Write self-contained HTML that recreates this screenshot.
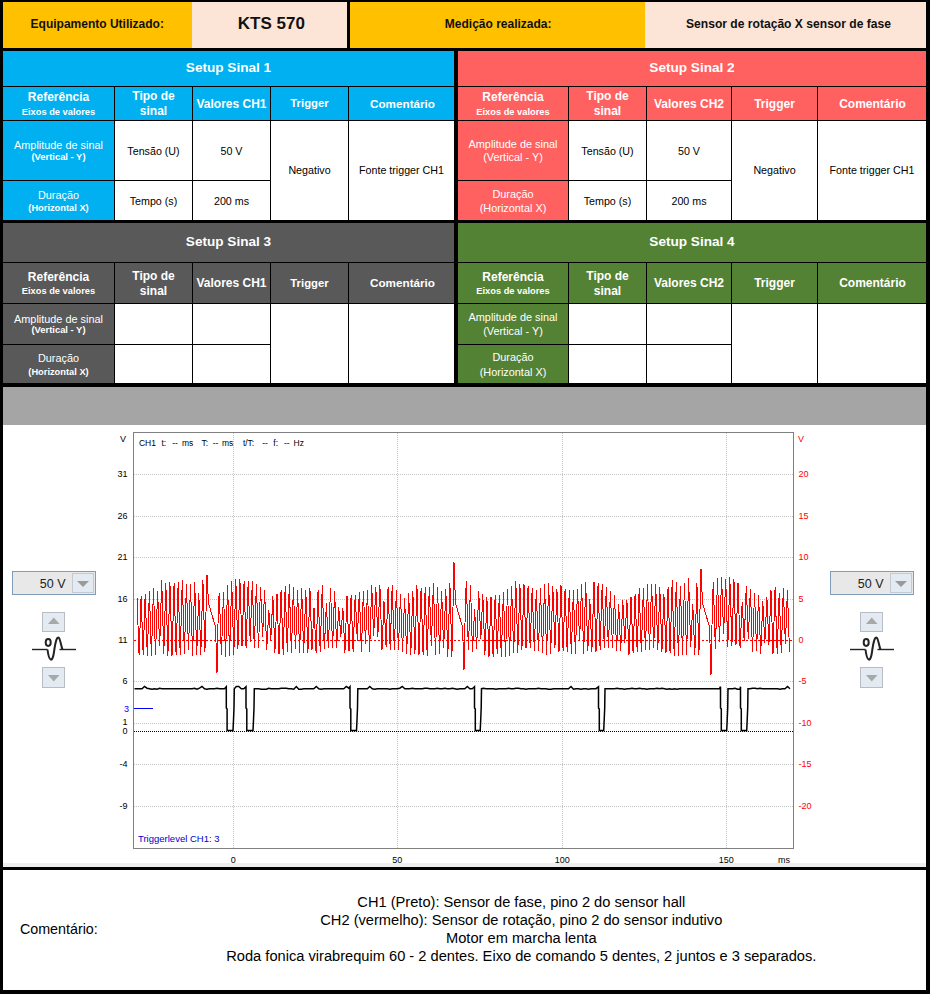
<!DOCTYPE html>
<html><head><meta charset="utf-8"><style>
html,body{margin:0;padding:0;background:#fff;}
body{width:932px;height:997px;position:relative;overflow:hidden;font-family:"Liberation Sans", sans-serif;}
</style></head><body>
<div style="position:absolute;left:0;top:0;width:930px;height:994px;background:#000"></div>
<div style="position:absolute;left:3px;top:2px;width:189px;height:46px;background:#FFC000;"></div>
<div style="position:absolute;left:192px;top:2px;width:155px;height:46px;background:#FCE4D6;"></div>
<div style="position:absolute;left:350px;top:2px;width:295px;height:46px;background:#FFC000;"></div>
<div style="position:absolute;left:645px;top:2px;width:281px;height:46px;background:#FCE4D6;"></div>
<div style="position:absolute;left:-302.75px;width:800px;text-align:center;top:15.04px;font-size:12px;line-height:18px;font-weight:bold;color:#111;white-space:nowrap;">Equipamento Utilizado:</div>
<div style="position:absolute;left:-128.70px;width:800px;text-align:center;top:10.91px;font-size:17px;line-height:26px;font-weight:bold;color:#111;white-space:nowrap;">KTS 570</div>
<div style="position:absolute;left:98.20px;width:800px;text-align:center;top:14.54px;font-size:12px;line-height:18px;font-weight:bold;color:#111;white-space:nowrap;">Medição realizada:</div>
<div style="position:absolute;left:388.50px;width:800px;text-align:center;top:14.61px;font-size:12.1px;line-height:18px;font-weight:bold;color:#111;white-space:nowrap;">Sensor de rotação X sensor de fase</div>
<div style="position:absolute;left:3px;top:51px;width:451px;height:169px;background:#000;"></div>
<div style="position:absolute;left:3px;top:51px;width:451px;height:35px;background:#00B0F0;"></div>
<div style="position:absolute;left:-171.50px;width:800px;text-align:center;top:57.69px;font-size:13.6px;line-height:20px;font-weight:bold;color:#fff;white-space:nowrap;">Setup Sinal 1</div>
<div style="position:absolute;left:3px;top:87px;width:111px;height:33px;background:#00B0F0;"></div>
<div style="position:absolute;left:115px;top:87px;width:77px;height:33px;background:#00B0F0;"></div>
<div style="position:absolute;left:193px;top:87px;width:77px;height:33px;background:#00B0F0;"></div>
<div style="position:absolute;left:271px;top:87px;width:77px;height:33px;background:#00B0F0;"></div>
<div style="position:absolute;left:349px;top:87px;width:105px;height:33px;background:#00B0F0;"></div>
<div style="position:absolute;left:-341.50px;width:800px;text-align:center;top:88.44px;font-size:12px;line-height:18px;font-weight:bold;color:#fff;white-space:nowrap;">Referência</div>
<div style="position:absolute;left:-341.50px;width:800px;text-align:center;top:104.58px;font-size:9.3px;line-height:14px;font-weight:bold;color:#fff;white-space:nowrap;">Eixos de valores</div>
<div style="position:absolute;left:-246.50px;width:800px;text-align:center;top:87.34px;font-size:12px;line-height:18px;font-weight:bold;color:#fff;white-space:nowrap;">Tipo de</div>
<div style="position:absolute;left:-246.50px;width:800px;text-align:center;top:102.14px;font-size:12px;line-height:18px;font-weight:bold;color:#fff;white-space:nowrap;">sinal</div>
<div style="position:absolute;left:-168.50px;width:800px;text-align:center;top:94.54px;font-size:12px;line-height:18px;font-weight:bold;color:#fff;white-space:nowrap;">Valores CH1</div>
<div style="position:absolute;left:-90.50px;width:800px;text-align:center;top:95.28px;font-size:11.3px;line-height:17px;font-weight:bold;color:#fff;white-space:nowrap;">Trigger</div>
<div style="position:absolute;left:2.50px;width:800px;text-align:center;top:94.65px;font-size:11.7px;line-height:18px;font-weight:bold;color:#fff;white-space:nowrap;">Comentário</div>
<div style="position:absolute;left:3px;top:121px;width:111px;height:59px;background:#00B0F0;"></div>
<div style="position:absolute;left:3px;top:181px;width:111px;height:39px;background:#00B0F0;"></div>
<div style="position:absolute;left:-341.50px;width:800px;text-align:center;top:137.02px;font-size:10.9px;line-height:16px;font-weight:normal;color:#fff;white-space:nowrap;">Amplitude de sinal</div>
<div style="position:absolute;left:-341.50px;width:800px;text-align:center;top:149.84px;font-size:9.4px;line-height:14px;font-weight:bold;color:#fff;white-space:nowrap;">(Vertical - Y)</div>
<div style="position:absolute;left:-341.50px;width:800px;text-align:center;top:186.82px;font-size:10.9px;line-height:16px;font-weight:normal;color:#fff;white-space:nowrap;">Duração</div>
<div style="position:absolute;left:-341.50px;width:800px;text-align:center;top:201.08px;font-size:9.3px;line-height:14px;font-weight:bold;color:#fff;white-space:nowrap;">(Horizontal X)</div>
<div style="position:absolute;left:115px;top:121px;width:77px;height:59px;background:#fff;"></div>
<div style="position:absolute;left:193px;top:121px;width:77px;height:59px;background:#fff;"></div>
<div style="position:absolute;left:115px;top:181px;width:77px;height:39px;background:#fff;"></div>
<div style="position:absolute;left:193px;top:181px;width:77px;height:39px;background:#fff;"></div>
<div style="position:absolute;left:271px;top:121px;width:77px;height:99px;background:#fff;"></div>
<div style="position:absolute;left:349px;top:121px;width:105px;height:99px;background:#fff;"></div>
<div style="position:absolute;left:-246.50px;width:800px;text-align:center;top:143.09px;font-size:10.7px;line-height:16px;font-weight:normal;color:#000;white-space:nowrap;">Tensão (U)</div>
<div style="position:absolute;left:-168.50px;width:800px;text-align:center;top:143.09px;font-size:10.7px;line-height:16px;font-weight:normal;color:#000;white-space:nowrap;">50 V</div>
<div style="position:absolute;left:-246.50px;width:800px;text-align:center;top:193.09px;font-size:10.7px;line-height:16px;font-weight:normal;color:#000;white-space:nowrap;">Tempo (s)</div>
<div style="position:absolute;left:-168.50px;width:800px;text-align:center;top:193.09px;font-size:10.7px;line-height:16px;font-weight:normal;color:#000;white-space:nowrap;">200 ms</div>
<div style="position:absolute;left:-90.50px;width:800px;text-align:center;top:162.09px;font-size:10.7px;line-height:16px;font-weight:normal;color:#000;white-space:nowrap;">Negativo</div>
<div style="position:absolute;left:1.50px;width:800px;text-align:center;top:162.09px;font-size:10.7px;line-height:16px;font-weight:normal;color:#000;white-space:nowrap;">Fonte trigger CH1</div>
<div style="position:absolute;left:458px;top:51px;width:468px;height:169px;background:#000;"></div>
<div style="position:absolute;left:458px;top:51px;width:468px;height:35px;background:#FF6161;"></div>
<div style="position:absolute;left:292.00px;width:800px;text-align:center;top:57.69px;font-size:13.6px;line-height:20px;font-weight:bold;color:#fff;white-space:nowrap;">Setup Sinal 2</div>
<div style="position:absolute;left:458px;top:87px;width:110px;height:33px;background:#FF6161;"></div>
<div style="position:absolute;left:569px;top:87px;width:77px;height:33px;background:#FF6161;"></div>
<div style="position:absolute;left:647px;top:87px;width:84px;height:33px;background:#FF6161;"></div>
<div style="position:absolute;left:732px;top:87px;width:85px;height:33px;background:#FF6161;"></div>
<div style="position:absolute;left:818px;top:87px;width:108px;height:33px;background:#FF6161;"></div>
<div style="position:absolute;left:113.00px;width:800px;text-align:center;top:88.44px;font-size:12px;line-height:18px;font-weight:bold;color:#fff;white-space:nowrap;">Referência</div>
<div style="position:absolute;left:113.00px;width:800px;text-align:center;top:104.58px;font-size:9.3px;line-height:14px;font-weight:bold;color:#fff;white-space:nowrap;">Eixos de valores</div>
<div style="position:absolute;left:207.50px;width:800px;text-align:center;top:87.34px;font-size:12px;line-height:18px;font-weight:bold;color:#fff;white-space:nowrap;">Tipo de</div>
<div style="position:absolute;left:207.50px;width:800px;text-align:center;top:102.14px;font-size:12px;line-height:18px;font-weight:bold;color:#fff;white-space:nowrap;">sinal</div>
<div style="position:absolute;left:289.00px;width:800px;text-align:center;top:94.54px;font-size:12px;line-height:18px;font-weight:bold;color:#fff;white-space:nowrap;">Valores CH2</div>
<div style="position:absolute;left:374.50px;width:800px;text-align:center;top:94.54px;font-size:12px;line-height:18px;font-weight:bold;color:#fff;white-space:nowrap;">Trigger</div>
<div style="position:absolute;left:472.50px;width:800px;text-align:center;top:94.54px;font-size:12px;line-height:18px;font-weight:bold;color:#fff;white-space:nowrap;">Comentário</div>
<div style="position:absolute;left:458px;top:121px;width:110px;height:59px;background:#FF6161;"></div>
<div style="position:absolute;left:458px;top:181px;width:110px;height:39px;background:#FF6161;"></div>
<div style="position:absolute;left:113.00px;width:800px;text-align:center;top:135.82px;font-size:10.9px;line-height:16px;font-weight:normal;color:#fff;white-space:nowrap;">Amplitude de sinal</div>
<div style="position:absolute;left:113.00px;width:800px;text-align:center;top:149.22px;font-size:10.9px;line-height:16px;font-weight:normal;color:#fff;white-space:nowrap;">(Vertical - Y)</div>
<div style="position:absolute;left:113.00px;width:800px;text-align:center;top:185.72px;font-size:10.9px;line-height:16px;font-weight:normal;color:#fff;white-space:nowrap;">Duração</div>
<div style="position:absolute;left:113.00px;width:800px;text-align:center;top:200.22px;font-size:10.9px;line-height:16px;font-weight:normal;color:#fff;white-space:nowrap;">(Horizontal X)</div>
<div style="position:absolute;left:569px;top:121px;width:77px;height:59px;background:#fff;"></div>
<div style="position:absolute;left:647px;top:121px;width:84px;height:59px;background:#fff;"></div>
<div style="position:absolute;left:569px;top:181px;width:77px;height:39px;background:#fff;"></div>
<div style="position:absolute;left:647px;top:181px;width:84px;height:39px;background:#fff;"></div>
<div style="position:absolute;left:732px;top:121px;width:85px;height:99px;background:#fff;"></div>
<div style="position:absolute;left:818px;top:121px;width:108px;height:99px;background:#fff;"></div>
<div style="position:absolute;left:207.50px;width:800px;text-align:center;top:143.09px;font-size:10.7px;line-height:16px;font-weight:normal;color:#000;white-space:nowrap;">Tensão (U)</div>
<div style="position:absolute;left:289.00px;width:800px;text-align:center;top:143.09px;font-size:10.7px;line-height:16px;font-weight:normal;color:#000;white-space:nowrap;">50 V</div>
<div style="position:absolute;left:207.50px;width:800px;text-align:center;top:193.09px;font-size:10.7px;line-height:16px;font-weight:normal;color:#000;white-space:nowrap;">Tempo (s)</div>
<div style="position:absolute;left:289.00px;width:800px;text-align:center;top:193.09px;font-size:10.7px;line-height:16px;font-weight:normal;color:#000;white-space:nowrap;">200 ms</div>
<div style="position:absolute;left:374.50px;width:800px;text-align:center;top:162.09px;font-size:10.7px;line-height:16px;font-weight:normal;color:#000;white-space:nowrap;">Negativo</div>
<div style="position:absolute;left:472.00px;width:800px;text-align:center;top:162.09px;font-size:10.7px;line-height:16px;font-weight:normal;color:#000;white-space:nowrap;">Fonte trigger CH1</div>
<div style="position:absolute;left:3px;top:223px;width:451px;height:160px;background:#000;"></div>
<div style="position:absolute;left:3px;top:223px;width:451px;height:39px;background:#595959;"></div>
<div style="position:absolute;left:-171.50px;width:800px;text-align:center;top:231.69px;font-size:13.6px;line-height:20px;font-weight:bold;color:#fff;white-space:nowrap;">Setup Sinal 3</div>
<div style="position:absolute;left:3px;top:263px;width:111px;height:40px;background:#595959;"></div>
<div style="position:absolute;left:115px;top:263px;width:77px;height:40px;background:#595959;"></div>
<div style="position:absolute;left:193px;top:263px;width:77px;height:40px;background:#595959;"></div>
<div style="position:absolute;left:271px;top:263px;width:77px;height:40px;background:#595959;"></div>
<div style="position:absolute;left:349px;top:263px;width:105px;height:40px;background:#595959;"></div>
<div style="position:absolute;left:-341.50px;width:800px;text-align:center;top:267.94px;font-size:12px;line-height:18px;font-weight:bold;color:#fff;white-space:nowrap;">Referência</div>
<div style="position:absolute;left:-341.50px;width:800px;text-align:center;top:284.08px;font-size:9.3px;line-height:14px;font-weight:bold;color:#fff;white-space:nowrap;">Eixos de valores</div>
<div style="position:absolute;left:-246.50px;width:800px;text-align:center;top:266.84px;font-size:12px;line-height:18px;font-weight:bold;color:#fff;white-space:nowrap;">Tipo de</div>
<div style="position:absolute;left:-246.50px;width:800px;text-align:center;top:281.64px;font-size:12px;line-height:18px;font-weight:bold;color:#fff;white-space:nowrap;">sinal</div>
<div style="position:absolute;left:-168.50px;width:800px;text-align:center;top:274.04px;font-size:12px;line-height:18px;font-weight:bold;color:#fff;white-space:nowrap;">Valores CH1</div>
<div style="position:absolute;left:-90.50px;width:800px;text-align:center;top:274.78px;font-size:11.3px;line-height:17px;font-weight:bold;color:#fff;white-space:nowrap;">Trigger</div>
<div style="position:absolute;left:2.50px;width:800px;text-align:center;top:274.15px;font-size:11.7px;line-height:18px;font-weight:bold;color:#fff;white-space:nowrap;">Comentário</div>
<div style="position:absolute;left:3px;top:304px;width:111px;height:40px;background:#595959;"></div>
<div style="position:absolute;left:3px;top:345px;width:111px;height:38px;background:#595959;"></div>
<div style="position:absolute;left:-341.50px;width:800px;text-align:center;top:310.52px;font-size:10.9px;line-height:16px;font-weight:normal;color:#fff;white-space:nowrap;">Amplitude de sinal</div>
<div style="position:absolute;left:-341.50px;width:800px;text-align:center;top:323.34px;font-size:9.4px;line-height:14px;font-weight:bold;color:#fff;white-space:nowrap;">(Vertical - Y)</div>
<div style="position:absolute;left:-341.50px;width:800px;text-align:center;top:350.32px;font-size:10.9px;line-height:16px;font-weight:normal;color:#fff;white-space:nowrap;">Duração</div>
<div style="position:absolute;left:-341.50px;width:800px;text-align:center;top:364.58px;font-size:9.3px;line-height:14px;font-weight:bold;color:#fff;white-space:nowrap;">(Horizontal X)</div>
<div style="position:absolute;left:115px;top:304px;width:77px;height:40px;background:#fff;"></div>
<div style="position:absolute;left:193px;top:304px;width:77px;height:40px;background:#fff;"></div>
<div style="position:absolute;left:115px;top:345px;width:77px;height:38px;background:#fff;"></div>
<div style="position:absolute;left:193px;top:345px;width:77px;height:38px;background:#fff;"></div>
<div style="position:absolute;left:271px;top:304px;width:77px;height:79px;background:#fff;"></div>
<div style="position:absolute;left:349px;top:304px;width:105px;height:79px;background:#fff;"></div>
<div style="position:absolute;left:458px;top:223px;width:468px;height:160px;background:#000;"></div>
<div style="position:absolute;left:458px;top:223px;width:468px;height:39px;background:#548235;"></div>
<div style="position:absolute;left:292.00px;width:800px;text-align:center;top:231.69px;font-size:13.6px;line-height:20px;font-weight:bold;color:#fff;white-space:nowrap;">Setup Sinal 4</div>
<div style="position:absolute;left:458px;top:263px;width:110px;height:40px;background:#548235;"></div>
<div style="position:absolute;left:569px;top:263px;width:77px;height:40px;background:#548235;"></div>
<div style="position:absolute;left:647px;top:263px;width:84px;height:40px;background:#548235;"></div>
<div style="position:absolute;left:732px;top:263px;width:85px;height:40px;background:#548235;"></div>
<div style="position:absolute;left:818px;top:263px;width:108px;height:40px;background:#548235;"></div>
<div style="position:absolute;left:113.00px;width:800px;text-align:center;top:267.94px;font-size:12px;line-height:18px;font-weight:bold;color:#fff;white-space:nowrap;">Referência</div>
<div style="position:absolute;left:113.00px;width:800px;text-align:center;top:284.08px;font-size:9.3px;line-height:14px;font-weight:bold;color:#fff;white-space:nowrap;">Eixos de valores</div>
<div style="position:absolute;left:207.50px;width:800px;text-align:center;top:266.84px;font-size:12px;line-height:18px;font-weight:bold;color:#fff;white-space:nowrap;">Tipo de</div>
<div style="position:absolute;left:207.50px;width:800px;text-align:center;top:281.64px;font-size:12px;line-height:18px;font-weight:bold;color:#fff;white-space:nowrap;">sinal</div>
<div style="position:absolute;left:289.00px;width:800px;text-align:center;top:274.04px;font-size:12px;line-height:18px;font-weight:bold;color:#fff;white-space:nowrap;">Valores CH2</div>
<div style="position:absolute;left:374.50px;width:800px;text-align:center;top:274.04px;font-size:12px;line-height:18px;font-weight:bold;color:#fff;white-space:nowrap;">Trigger</div>
<div style="position:absolute;left:472.50px;width:800px;text-align:center;top:274.04px;font-size:12px;line-height:18px;font-weight:bold;color:#fff;white-space:nowrap;">Comentário</div>
<div style="position:absolute;left:458px;top:304px;width:110px;height:40px;background:#548235;"></div>
<div style="position:absolute;left:458px;top:345px;width:110px;height:38px;background:#548235;"></div>
<div style="position:absolute;left:113.00px;width:800px;text-align:center;top:309.32px;font-size:10.9px;line-height:16px;font-weight:normal;color:#fff;white-space:nowrap;">Amplitude de sinal</div>
<div style="position:absolute;left:113.00px;width:800px;text-align:center;top:322.72px;font-size:10.9px;line-height:16px;font-weight:normal;color:#fff;white-space:nowrap;">(Vertical - Y)</div>
<div style="position:absolute;left:113.00px;width:800px;text-align:center;top:349.22px;font-size:10.9px;line-height:16px;font-weight:normal;color:#fff;white-space:nowrap;">Duração</div>
<div style="position:absolute;left:113.00px;width:800px;text-align:center;top:363.72px;font-size:10.9px;line-height:16px;font-weight:normal;color:#fff;white-space:nowrap;">(Horizontal X)</div>
<div style="position:absolute;left:569px;top:304px;width:77px;height:40px;background:#fff;"></div>
<div style="position:absolute;left:647px;top:304px;width:84px;height:40px;background:#fff;"></div>
<div style="position:absolute;left:569px;top:345px;width:77px;height:38px;background:#fff;"></div>
<div style="position:absolute;left:647px;top:345px;width:84px;height:38px;background:#fff;"></div>
<div style="position:absolute;left:732px;top:304px;width:85px;height:79px;background:#fff;"></div>
<div style="position:absolute;left:818px;top:304px;width:108px;height:79px;background:#fff;"></div>
<div style="position:absolute;left:3px;top:387px;width:923px;height:38px;background:#A5A5A5;"></div>
<div style="position:absolute;left:3px;top:425px;width:923px;height:442px;background:#fff;"></div>
<div style="position:absolute;left:3px;top:863px;width:923px;height:4px;background:#eeeeee;"></div>
<div style="position:absolute;left:3px;top:870px;width:923px;height:120px;background:#fff;"></div>
<div style="position:absolute;left:19.90px;top:919.35px;font-size:14.3px;line-height:21px;font-weight:normal;color:#000;white-space:nowrap;">Comentário:</div>
<div style="position:absolute;left:121.30px;width:800px;text-align:center;top:891.22px;font-size:14.65px;line-height:22px;font-weight:normal;color:#000;white-space:nowrap;">CH1 (Preto): Sensor de fase, pino 2 do sensor hall</div>
<div style="position:absolute;left:121.30px;width:800px;text-align:center;top:909.22px;font-size:14.65px;line-height:22px;font-weight:normal;color:#000;white-space:nowrap;">CH2 (vermelho): Sensor de rotação, pino 2 do sensor indutivo</div>
<div style="position:absolute;left:121.30px;width:800px;text-align:center;top:927.22px;font-size:14.65px;line-height:22px;font-weight:normal;color:#000;white-space:nowrap;">Motor em marcha lenta</div>
<div style="position:absolute;left:121.30px;width:800px;text-align:center;top:945.12px;font-size:14.65px;line-height:22px;font-weight:normal;color:#000;white-space:nowrap;">Roda fonica virabrequim 60 - 2 dentes. Eixo de comando 5 dentes, 2 juntos e 3 separados.</div>
<svg width="932" height="997" style="position:absolute;left:0;top:0">
<line x1="133.5" y1="474.5" x2="793.5" y2="474.5" stroke="#c4c4c4" stroke-width="1" stroke-dasharray="1 1" shape-rendering="crispEdges"/>
<line x1="133.5" y1="516.5" x2="793.5" y2="516.5" stroke="#c4c4c4" stroke-width="1" stroke-dasharray="1 1" shape-rendering="crispEdges"/>
<line x1="133.5" y1="557.5" x2="793.5" y2="557.5" stroke="#c4c4c4" stroke-width="1" stroke-dasharray="1 1" shape-rendering="crispEdges"/>
<line x1="133.5" y1="599.5" x2="793.5" y2="599.5" stroke="#c4c4c4" stroke-width="1" stroke-dasharray="1 1" shape-rendering="crispEdges"/>
<line x1="133.5" y1="681.5" x2="793.5" y2="681.5" stroke="#c4c4c4" stroke-width="1" stroke-dasharray="1 1" shape-rendering="crispEdges"/>
<line x1="133.5" y1="723.5" x2="793.5" y2="723.5" stroke="#c4c4c4" stroke-width="1" stroke-dasharray="1 1" shape-rendering="crispEdges"/>
<line x1="133.5" y1="764.5" x2="793.5" y2="764.5" stroke="#c4c4c4" stroke-width="1" stroke-dasharray="1 1" shape-rendering="crispEdges"/>
<line x1="133.5" y1="806.5" x2="793.5" y2="806.5" stroke="#c4c4c4" stroke-width="1" stroke-dasharray="1 1" shape-rendering="crispEdges"/>
<line x1="233.5" y1="432.5" x2="233.5" y2="848.5" stroke="#c4c4c4" stroke-width="1" stroke-dasharray="1 1" shape-rendering="crispEdges"/>
<line x1="397.5" y1="432.5" x2="397.5" y2="848.5" stroke="#c4c4c4" stroke-width="1" stroke-dasharray="1 1" shape-rendering="crispEdges"/>
<line x1="562.5" y1="432.5" x2="562.5" y2="848.5" stroke="#c4c4c4" stroke-width="1" stroke-dasharray="1 1" shape-rendering="crispEdges"/>
<line x1="726.5" y1="432.5" x2="726.5" y2="848.5" stroke="#c4c4c4" stroke-width="1" stroke-dasharray="1 1" shape-rendering="crispEdges"/>
<line x1="133.5" y1="731.5" x2="793.5" y2="731.5" stroke="#000" stroke-width="1" stroke-dasharray="1 1" shape-rendering="crispEdges"/>
<line x1="133.5" y1="640.5" x2="793.5" y2="640.5" stroke="#ff0000" stroke-width="1" stroke-dasharray="2 2" shape-rendering="crispEdges"/>
<rect x="133.5" y="432.5" width="660.0" height="416.0" fill="none" stroke="#808080" stroke-width="1" shape-rendering="crispEdges"/>
<text x="126" y="441.8" font-family='"Liberation Sans", sans-serif' font-size="9" fill="#000" text-anchor="end">V</text>
<text x="127.5" y="477.1" font-family='"Liberation Sans", sans-serif' font-size="9" fill="#000" text-anchor="end">31</text>
<text x="127.5" y="519.1" font-family='"Liberation Sans", sans-serif' font-size="9" fill="#000" text-anchor="end">26</text>
<text x="127.5" y="560.1" font-family='"Liberation Sans", sans-serif' font-size="9" fill="#000" text-anchor="end">21</text>
<text x="127.5" y="602.1" font-family='"Liberation Sans", sans-serif' font-size="9" fill="#000" text-anchor="end">16</text>
<text x="127.5" y="643.1" font-family='"Liberation Sans", sans-serif' font-size="9" fill="#000" text-anchor="end">11</text>
<text x="127.5" y="684.1" font-family='"Liberation Sans", sans-serif' font-size="9" fill="#000" text-anchor="end">6</text>
<text x="127.5" y="725.3" font-family='"Liberation Sans", sans-serif' font-size="9" fill="#000" text-anchor="end">1</text>
<text x="127.5" y="734.1" font-family='"Liberation Sans", sans-serif' font-size="9" fill="#000" text-anchor="end">0</text>
<text x="127.5" y="767.1" font-family='"Liberation Sans", sans-serif' font-size="9" fill="#000" text-anchor="end">-4</text>
<text x="127.5" y="809.1" font-family='"Liberation Sans", sans-serif' font-size="9" fill="#000" text-anchor="end">-9</text>
<text x="129" y="711.5" font-family='"Liberation Sans", sans-serif' font-size="9" fill="#0000ff" text-anchor="end">3</text>
<line x1="134" y1="708.5" x2="153" y2="708.5" stroke="#0000ff" stroke-width="1"/>
<text x="798" y="441.5" font-family='"Liberation Sans", sans-serif' font-size="9" fill="#ff0000" text-anchor="start">V</text>
<text x="798.5" y="477.1" font-family='"Liberation Sans", sans-serif' font-size="9" fill="#ff0000" text-anchor="start">20</text>
<text x="798.5" y="519.1" font-family='"Liberation Sans", sans-serif' font-size="9" fill="#ff0000" text-anchor="start">15</text>
<text x="798.5" y="560.1" font-family='"Liberation Sans", sans-serif' font-size="9" fill="#ff0000" text-anchor="start">10</text>
<text x="798.5" y="602.1" font-family='"Liberation Sans", sans-serif' font-size="9" fill="#ff0000" text-anchor="start">5</text>
<text x="798.5" y="643.1" font-family='"Liberation Sans", sans-serif' font-size="9" fill="#ff0000" text-anchor="start">0</text>
<text x="798.5" y="684.1" font-family='"Liberation Sans", sans-serif' font-size="9" fill="#ff0000" text-anchor="start">-5</text>
<text x="798.5" y="726.1" font-family='"Liberation Sans", sans-serif' font-size="9" fill="#ff0000" text-anchor="start">-10</text>
<text x="798.5" y="767.1" font-family='"Liberation Sans", sans-serif' font-size="9" fill="#ff0000" text-anchor="start">-15</text>
<text x="798.5" y="809.1" font-family='"Liberation Sans", sans-serif' font-size="9" fill="#ff0000" text-anchor="start">-20</text>
<text x="233.2" y="862.7" font-family='"Liberation Sans", sans-serif' font-size="9" fill="#000" text-anchor="middle">0</text>
<text x="397.2" y="862.7" font-family='"Liberation Sans", sans-serif' font-size="9" fill="#000" text-anchor="middle">50</text>
<text x="562.2" y="862.7" font-family='"Liberation Sans", sans-serif' font-size="9" fill="#000" text-anchor="middle">100</text>
<text x="726.2" y="862.7" font-family='"Liberation Sans", sans-serif' font-size="9" fill="#000" text-anchor="middle">150</text>
<text x="784" y="862.7" font-family='"Liberation Sans", sans-serif' font-size="9" fill="#000" text-anchor="middle">ms</text>
<text x="138.9" y="446" font-family='"Liberation Sans", sans-serif' font-size="8.5" fill="#000" text-anchor="start">CH1</text>
<text x="161.5" y="446" font-family='"Liberation Sans", sans-serif' font-size="8.5" fill="#000" text-anchor="start">t:</text>
<text x="172.2" y="446" font-family='"Liberation Sans", sans-serif' font-size="8.5" fill="#000" text-anchor="start">--</text>
<text x="182" y="446" font-family='"Liberation Sans", sans-serif' font-size="8.5" fill="#000" text-anchor="start">ms</text>
<text x="201.6" y="446" font-family='"Liberation Sans", sans-serif' font-size="8.5" fill="#000" text-anchor="start">T:</text>
<text x="212.7" y="446" font-family='"Liberation Sans", sans-serif' font-size="8.5" fill="#000" text-anchor="start">--</text>
<text x="222" y="446" font-family='"Liberation Sans", sans-serif' font-size="8.5" fill="#000" text-anchor="start">ms</text>
<text x="242.9" y="446" font-family='"Liberation Sans", sans-serif' font-size="8.5" fill="#000" text-anchor="start">t/T:</text>
<text x="262.2" y="446" font-family='"Liberation Sans", sans-serif' font-size="8.5" fill="#000" text-anchor="start">--</text>
<text x="273.3" y="446" font-family='"Liberation Sans", sans-serif' font-size="8.5" fill="#000" text-anchor="start">f:</text>
<text x="283.9" y="446" font-family='"Liberation Sans", sans-serif' font-size="8.5" fill="#000" text-anchor="start">--</text>
<text x="293.5" y="446" font-family='"Liberation Sans", sans-serif' font-size="8.5" fill="#000" text-anchor="start">Hz</text>
<text x="138" y="842" font-family='"Liberation Sans", sans-serif' font-size="9.5" fill="#0000cc" text-anchor="start">Triggerlevel CH1: 3</text>
<polyline points="137.0,598.0 139.1,655.2 141.1,596.4 143.2,655.1 145.2,593.8 147.3,656.0 149.4,591.2 151.4,655.8 153.5,588.2 155.5,655.4 157.6,591.3 159.7,646.4 161.7,580.0 163.8,653.5 165.8,582.6 167.9,655.5 169.9,581.8 172.0,655.8 174.1,583.3 176.1,654.9 178.2,581.8 180.2,654.6 182.3,579.6 184.4,653.6 186.4,584.0 188.5,649.5 190.5,584.5 192.6,656.0 194.7,581.8 196.7,655.2 198.8,593.5 200.8,654.7 202.9,579.8 204.9,652.3 207.0,575.0 208.5,603.0 215.5,627.0 217.0,673.0 218.5,600.0 219.3,593.4 221.4,655.0 223.5,591.8 225.5,656.6 227.6,585.5 229.6,656.2 231.7,581.1 233.8,654.5 235.8,579.1 237.9,649.4 239.9,578.9 242.0,646.2 244.1,581.2 246.1,648.4 248.2,581.4 250.2,641.5 252.3,581.1 254.3,648.2 256.4,583.8 258.5,648.4 260.5,587.0 262.6,636.5 264.6,589.9 266.7,650.3 268.8,610.3 270.8,639.5 272.9,596.5 274.9,652.9 277.0,594.0 279.0,654.4 281.1,589.8 283.2,654.7 285.2,586.1 287.3,651.5 289.3,584.0 291.4,653.0 293.4,587.5 295.5,649.4 297.6,590.4 299.6,652.5 301.7,588.3 303.7,652.6 305.8,590.1 307.9,652.9 309.9,587.7 312.0,650.0 314.0,607.7 316.1,652.9 318.1,589.8 320.2,651.6 322.3,585.2 324.3,648.7 326.4,603.5 328.4,648.0 330.5,587.7 332.6,647.8 334.6,590.6 336.7,647.9 338.7,606.6 340.8,636.8 342.9,608.3 344.9,652.6 347.0,595.8 349.0,651.2 351.1,595.2 353.1,651.6 355.2,594.7 357.3,640.6 359.3,591.6 361.4,651.5 363.4,590.9 365.5,643.8 367.5,590.1 369.6,651.9 371.7,584.9 373.7,635.8 375.8,587.0 377.8,637.2 379.9,585.1 382.0,649.7 384.0,601.3 386.1,646.8 388.1,587.0 390.2,649.6 392.2,585.5 394.3,649.8 396.4,590.0 398.4,650.0 400.5,593.6 402.5,651.7 404.6,598.0 406.7,653.9 408.7,593.4 410.8,654.6 412.8,591.0 414.9,654.1 416.9,585.5 419.0,654.5 421.1,588.2 423.1,654.9 425.2,587.2 427.2,655.7 429.3,587.0 431.4,645.8 433.4,583.4 435.5,655.3 437.5,586.6 439.6,653.9 441.6,590.8 443.7,648.4 445.8,588.9 447.8,657.0 449.9,583.3 451.9,656.8 454.0,562.5 455.5,603.0 462.5,627.0 464.0,670.0 465.5,600.0 466.3,580.9 468.4,649.8 470.5,585.2 472.5,652.1 474.6,609.1 476.6,649.2 478.7,590.9 480.8,639.4 482.8,594.2 484.9,654.7 486.9,597.4 489.0,656.7 491.0,597.0 493.1,656.8 495.2,595.0 497.2,654.0 499.3,595.3 501.3,656.9 503.4,591.6 505.5,656.9 507.5,589.1 509.6,655.5 511.6,585.7 513.7,652.6 515.8,580.6 517.8,652.5 519.9,583.9 521.9,649.5 524.0,584.1 526.0,648.4 528.1,585.6 530.2,648.2 532.2,588.0 534.3,650.8 536.3,589.7 538.4,651.4 540.5,588.0 542.5,652.7 544.6,584.5 546.6,654.5 548.7,583.0 550.7,653.6 552.8,586.4 554.9,647.9 556.9,588.6 559.0,652.1 561.0,585.4 563.1,650.7 565.1,588.8 567.2,652.2 569.3,589.9 571.3,653.5 573.4,590.3 575.4,653.8 577.5,588.7 579.6,640.9 581.6,583.8 583.7,653.7 585.7,582.1 587.8,651.3 589.8,598.8 591.9,651.5 594.0,581.9 596.0,652.2 598.1,583.4 600.1,649.5 602.2,584.1 604.3,647.5 606.3,586.9 608.4,647.7 610.4,590.9 612.5,648.0 614.5,595.3 616.6,650.5 618.7,603.9 620.7,651.1 622.8,600.0 624.8,643.3 626.9,599.8 629.0,654.5 631.0,596.8 633.1,652.8 635.1,594.0 637.2,652.2 639.2,587.9 641.3,652.1 643.4,587.9 645.4,650.1 647.5,584.1 649.5,650.3 651.6,583.9 653.7,648.1 655.7,584.4 657.8,650.1 659.8,587.4 661.9,651.7 663.9,593.6 666.0,652.8 668.1,587.0 670.1,653.4 672.2,580.0 674.2,656.0 676.3,582.3 678.4,656.4 680.4,585.8 682.5,654.5 684.5,582.8 686.6,655.3 688.6,578.4 690.7,647.1 692.8,604.3 694.8,654.9 696.9,583.0 698.9,654.6 701.0,569.0 702.5,603.0 709.5,627.0 711.0,675.0 712.5,600.0 713.3,582.0 715.4,649.3 717.5,578.5 719.5,642.0 721.6,577.5 723.6,633.9 725.7,579.0 727.8,647.2 729.8,577.0 731.9,645.7 733.9,578.8 736.0,644.7 738.0,582.9 740.1,648.3 742.2,601.9 744.2,641.0 746.3,586.1 748.3,639.0 750.4,588.6 752.5,652.0 754.5,593.5 756.6,650.5 758.6,594.8 760.7,654.3 762.8,601.4 764.8,643.1 766.9,597.5 768.9,644.6 771.0,590.1 773.0,653.9 775.1,587.5 777.2,653.9 779.2,592.6 781.3,652.9 783.3,588.1 785.4,644.4 787.4,590.3 789.5,651.6" fill="none" stroke="#ff0000" stroke-width="1" shape-rendering="crispEdges"/>
<polyline points="134.5,688.7 137.0,688.7 139.5,688.7 142.0,688.7 144.5,686.5 147.0,688.2 149.5,688.7 152.0,689.2 154.5,688.7 157.0,689.2 159.5,688.2 162.0,688.7 164.5,688.7 167.0,688.7 169.5,688.7 172.0,688.7 174.5,688.7 177.0,688.7 179.5,688.7 182.0,688.7 184.5,688.7 187.0,688.7 189.5,688.7 192.0,688.7 194.5,688.2 197.0,689.2 199.5,688.2 202.0,686.5 204.5,688.7 207.0,689.2 209.5,688.7 212.0,688.7 214.5,688.7 217.0,688.2 219.5,688.7 222.0,688.7 224.5,688.7 226.3,686.7 226.3,708.0 227.1,709.0 227.1,730.5 233.0,730.5 233.5,720.0 234.0,708.0 234.3,688.7 236.3,686.5 238.8,686.5 241.3,688.7 243.8,688.7 246.0,686.7 246.0,708.0 246.8,709.0 246.8,730.5 253.0,730.5 253.5,720.0 254.0,708.0 254.3,688.7 256.3,688.7 258.8,688.7 261.3,689.2 263.8,689.2 266.3,689.2 268.8,688.2 271.3,688.7 273.8,688.7 276.3,688.7 278.8,688.7 281.3,688.2 283.8,688.2 286.3,688.2 288.8,688.7 291.3,688.7 293.8,689.2 296.3,686.5 298.8,689.2 301.3,689.2 303.8,688.7 306.3,688.7 308.8,688.7 311.3,688.7 313.8,688.7 316.3,686.5 318.8,688.7 321.3,689.2 323.8,688.7 326.3,688.7 328.8,688.7 331.3,688.7 333.8,688.7 336.3,688.7 338.8,688.7 341.3,688.7 343.8,688.7 346.3,686.5 348.8,688.2 350.0,686.7 350.0,708.0 350.8,709.0 350.8,730.5 356.5,730.5 357.0,720.0 357.5,708.0 357.8,688.7 359.8,688.7 362.3,688.7 364.8,688.7 367.3,688.7 369.8,686.5 372.3,688.7 374.8,689.2 377.3,688.7 379.8,688.7 382.3,688.7 384.8,688.7 387.3,688.7 389.8,689.2 392.3,688.7 394.8,688.7 397.3,688.7 399.8,688.2 402.3,686.5 404.8,688.7 407.3,688.7 409.8,688.7 412.3,688.2 414.8,688.7 417.3,688.7 419.8,688.7 422.3,688.7 424.8,688.2 427.3,688.2 429.8,688.7 432.3,688.7 434.8,688.7 437.3,688.2 439.8,688.7 442.3,688.7 444.8,688.2 447.3,688.7 449.8,688.7 452.3,688.2 454.8,688.7 457.3,689.2 459.8,688.7 462.3,688.7 464.8,688.7 467.3,686.5 469.8,688.7 472.3,688.7 474.5,686.7 474.5,708.0 475.3,709.0 475.3,730.5 480.2,730.5 480.7,720.0 481.2,708.0 481.5,688.7 483.5,688.2 486.0,688.7 488.5,688.7 491.0,688.7 493.5,688.7 496.0,689.2 498.5,688.7 501.0,688.7 503.5,688.7 506.0,688.7 508.5,688.2 511.0,688.7 513.5,688.7 516.0,688.2 518.5,688.2 521.0,688.7 523.5,688.7 526.0,689.2 528.5,688.7 531.0,688.7 533.5,688.7 536.0,688.7 538.5,688.2 541.0,688.7 543.5,688.7 546.0,688.7 548.5,689.2 551.0,689.2 553.5,688.7 556.0,688.7 558.5,688.7 561.0,688.7 563.5,688.7 566.0,688.7 568.5,688.7 571.0,686.5 573.5,689.2 576.0,688.7 578.5,688.7 581.0,689.2 583.5,688.7 586.0,688.7 588.5,689.2 591.0,688.7 593.5,688.7 596.0,688.7 598.5,686.7 598.5,708.0 599.3,709.0 599.3,730.5 603.7,730.5 604.2,720.0 604.7,708.0 605.0,688.7 607.0,688.7 609.5,688.7 612.0,688.7 614.5,688.7 617.0,688.2 619.5,688.7 622.0,688.7 624.5,689.2 627.0,688.7 629.5,688.7 632.0,688.2 634.5,688.7 637.0,688.7 639.5,688.2 642.0,688.7 644.5,688.7 647.0,689.2 649.5,688.7 652.0,688.7 654.5,688.7 657.0,688.2 659.5,688.7 662.0,688.2 664.5,688.7 667.0,689.2 669.5,688.7 672.0,689.2 674.5,688.7 677.0,689.2 679.5,688.7 682.0,688.7 684.5,688.7 687.0,688.7 689.5,688.7 692.0,688.7 694.5,688.7 697.0,688.7 699.5,688.7 702.0,688.7 704.5,688.7 707.0,688.7 709.5,688.7 712.0,688.7 714.5,688.7 717.0,688.7 719.5,688.7 720.5,686.7 720.5,708.0 721.3,709.0 721.3,730.5 726.7,730.5 727.2,720.0 727.7,708.0 728.0,688.7 730.0,688.7 732.5,688.7 735.0,688.2 737.5,689.2 740.0,689.2 740.5,686.7 740.5,708.0 741.3,709.0 741.3,730.5 746.7,730.5 747.2,720.0 747.7,708.0 748.0,688.7 750.0,688.7 752.5,688.2 755.0,688.2 757.5,688.7 760.0,688.2 762.5,688.7 765.0,688.7 767.5,688.7 770.0,688.7 772.5,688.7 775.0,688.7 777.5,688.7 780.0,689.2 782.5,688.7 785.0,688.7 787.5,686.5 790.0,688.7" fill="none" stroke="#000" stroke-width="1.5"/>
<rect x="12.5" y="571.5" width="83" height="23" fill="#e8e8e8" stroke="#7f9db9" stroke-width="1"/>
<rect x="72.5" y="573.5" width="21" height="19" fill="#e4eaf2" stroke="#c3cad4" stroke-width="1"/>
<polygon points="77,581 89,581 83,587" fill="#9a9a9a"/>
<text x="65.5" y="587.5" font-family='"Liberation Sans", sans-serif' font-size="12.5" fill="#222" text-anchor="end">50 V</text>
<rect x="42.5" y="612.5" width="22" height="19" fill="#e4eaf2" stroke="#b8bcc4" stroke-width="1"/>
<polygon points="48,624 59.5,624 53.75,617.5" fill="#a8a8a8"/>
<rect x="42.5" y="667.5" width="22" height="20" fill="#e4eaf2" stroke="#b8bcc4" stroke-width="1"/>
<polygon points="48,675 59.5,675 53.75,681.5" fill="#a8a8a8"/>
<line x1="32" y1="649.5" x2="47.5" y2="649.5" stroke="#222" stroke-width="1.4"/>
<line x1="59.5" y1="649.5" x2="76" y2="649.5" stroke="#222" stroke-width="1.4"/>
<path d="M47.5,649.5 C49,662 52.5,663 54,652 C55.5,641 57,636 59,638 C60.5,640 61,646 62.5,649.5" fill="none" stroke="#222" stroke-width="2"/>
<ellipse cx="48.2" cy="642.5" rx="2.5" ry="3.4" fill="none" stroke="#222" stroke-width="2"/>
<rect x="830.5" y="571.5" width="83" height="23" fill="#e8e8e8" stroke="#7f9db9" stroke-width="1"/>
<rect x="890.5" y="573.5" width="21" height="19" fill="#e4eaf2" stroke="#c3cad4" stroke-width="1"/>
<polygon points="895,581 907,581 901,587" fill="#9a9a9a"/>
<text x="883.5" y="587.5" font-family='"Liberation Sans", sans-serif' font-size="12.5" fill="#222" text-anchor="end">50 V</text>
<rect x="860.5" y="612.5" width="22" height="19" fill="#e4eaf2" stroke="#b8bcc4" stroke-width="1"/>
<polygon points="866,624 877.5,624 871.75,617.5" fill="#a8a8a8"/>
<rect x="860.5" y="667.5" width="22" height="20" fill="#e4eaf2" stroke="#b8bcc4" stroke-width="1"/>
<polygon points="866,675 877.5,675 871.75,681.5" fill="#a8a8a8"/>
<line x1="850" y1="649.5" x2="865.5" y2="649.5" stroke="#222" stroke-width="1.4"/>
<line x1="877.5" y1="649.5" x2="894" y2="649.5" stroke="#222" stroke-width="1.4"/>
<path d="M865.5,649.5 C867,662 870.5,663 872,652 C873.5,641 875,636 877,638 C878.5,640 879,646 880.5,649.5" fill="none" stroke="#222" stroke-width="2"/>
<ellipse cx="866.2" cy="642.5" rx="2.5" ry="3.4" fill="none" stroke="#222" stroke-width="2"/>
</svg>
</body></html>
